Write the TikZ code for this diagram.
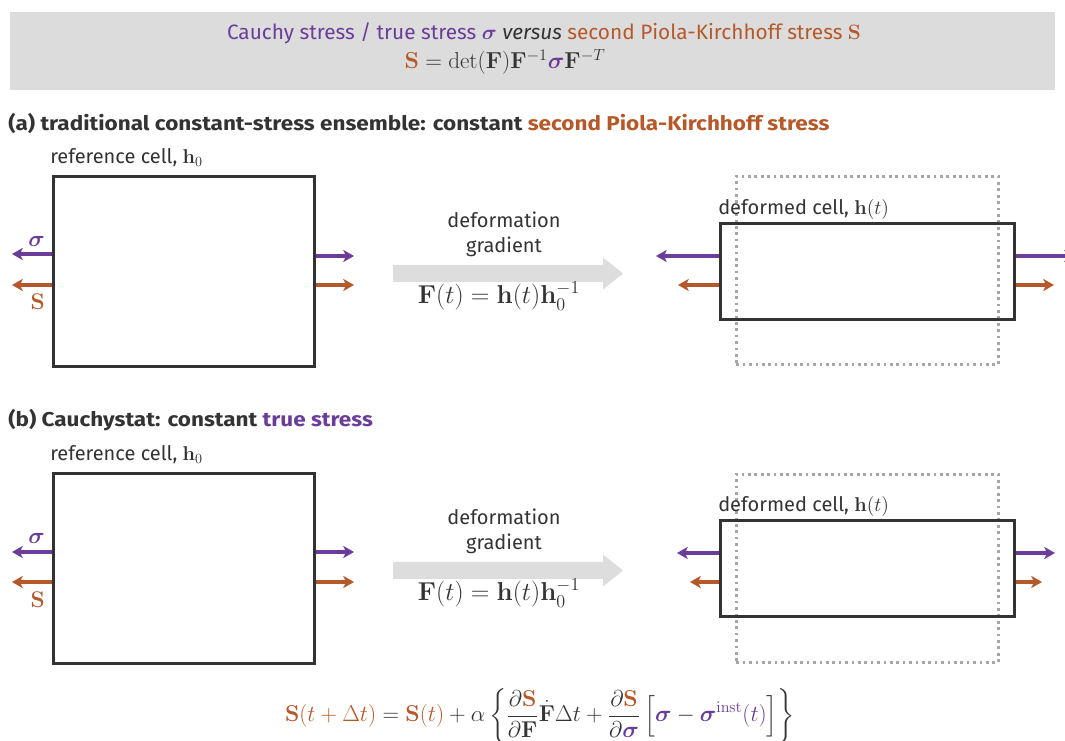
\RequirePackage{fix-cm}
\documentclass[tikz,border=0pt]{standalone}
\usepackage{amsmath,bm}
\usepackage[no-math]{fontspec}
\setmainfont{Fira Sans}
\newfontfamily\titlefont[FakeStretch=1.125]{Fira Sans}
\usetikzlibrary{arrows.meta}
\definecolor{purp}{HTML}{6A3D9A}
\definecolor{orng}{HTML}{B5592A}
\definecolor{ink}{HTML}{333333}
\definecolor{hdr}{HTML}{DCDCDC}
\definecolor{bigarr}{HTML}{DDDDDD}
\begin{document}
\begin{tikzpicture}[x=0.75pt,y=-0.75pt,
  font=\fontsize{15}{18}\selectfont, text=ink,
  cell/.style={draw=ink, line width=2.2pt, inner sep=0pt, anchor=north west},
  ghost/.style={draw=gray!70, line width=2pt, dash pattern=on 2pt off 2.8pt, inner sep=0pt, anchor=north west},
  parr/.style={draw=purp, line width=2.4pt, -{Stealth[length=8pt,width=9pt,inset=2pt]}},
  oarr/.style={draw=orng, line width=2.4pt, -{Stealth[length=8pt,width=9pt,inset=2pt]}},
  lbl/.style={anchor=base west, inner sep=0pt},
  ttl/.style={anchor=base west, inner sep=0pt, font=\titlefont\bfseries\fontsize{15}{18}\selectfont},
  gradtxt/.style={align=center, inner sep=0pt},
  bigmath/.style={inner sep=0pt, font=\fontsize{19.4}{23}\selectfont}]
\useasboundingbox (0,0) rectangle (1065,741);
% header
\node[fill=hdr, minimum width=783.75pt, minimum height=58.5pt, anchor=north west, inner sep=0pt] (hdr) at (10,12) {};
\node[inner sep=0pt, font=\fontsize{15.6}{18}\selectfont] (h1) at (544,33) {\textcolor{purp}{Cauchy stress / true stress $\bm{\sigma}$} \textit{versus} \textcolor{orng}{second Piola-Kirchhoff stress $\mathbf{S}$}};
\node[bigmath, font=\fontsize{17.3}{20}\selectfont] (h2) at (505,62) {$\textcolor{orng}{\mathbf{S}}=\det(\mathbf{F})\mathbf{F}^{-1}\textcolor{purp}{\bm{\sigma}}\mathbf{F}^{-T}$};

% ---------- (a)
\node[ttl] (ta) at (8,131) {(a) traditional constant-stress ensemble: constant \textcolor{orng}{second Piola-Kirchhoff stress}};
\node[cell, minimum width=195.75pt, minimum height=142.5pt] (refA) at (52,175) {};
\node[lbl] (rla) at (50,164) {reference cell, $\mathbf{h}_0$};
\coordinate (aLp) at (12,254); \coordinate (aLo) at (12,285);
\coordinate (aRp) at (354,256); \coordinate (aRo) at (354,285);
\draw[parr] (refA.west |- aLp) -- (aLp);
\draw[oarr] (refA.west |- aLo) -- (aLo);
\draw[parr] (refA.east |- aRp) -- (aRp);
\draw[oarr] (refA.east |- aRo) -- (aRo);
\node[anchor=east, inner sep=0pt, text=purp, font=\fontsize{17}{20}\selectfont] (sa) at (45,241) {$\bm{\sigma}$};
\node[anchor=east, inner sep=0pt, text=orng, font=\fontsize{17}{20}\selectfont] (Sa) at (45,302) {$\mathbf{S}$};

\fill[bigarr] (393,265) -- (603,265) -- (603,257.5) -- (623,273.5) -- (603,289.5) -- (603,282) -- (393,282) -- cycle;
\node[gradtxt] (da) at (504,220) {deformation};
\node[gradtxt] (ga) at (504,247) {gradient};
\node[bigmath] (fa) at (499,296) {$\mathbf{F}(t)=\mathbf{h}(t)\mathbf{h}_0^{-1}$};

\node[ghost, minimum width=196.5pt, minimum height=141pt] (ghA) at (735,175) {};
\node[cell, minimum width=220.5pt, minimum height=72pt] (defA) at (719,222) {};
\node[lbl] (dla) at (718,215) {deformed cell, $\mathbf{h}(t)$};
\coordinate (dLp) at (656,256); \coordinate (dLo) at (678,285);
\coordinate (dRp) at (1075,256); \coordinate (dRo) at (1054,285);
\draw[parr] (defA.west |- dLp) -- (dLp);
\draw[oarr] (defA.west |- dLo) -- (dLo);
\draw[parr] (defA.east |- dRp) -- (dRp);
\draw[oarr] (defA.east |- dRo) -- (dRo);

% ---------- (b)
\node[ttl] (tb) at (8,427) {(b) Cauchystat: constant \textcolor{purp}{true stress}};
\node[cell, minimum width=195.75pt, minimum height=142.5pt] (refB) at (52,472) {};
\node[lbl] (rlb) at (50,461) {reference cell, $\mathbf{h}_0$};
\coordinate (bLp) at (12,552); \coordinate (bLo) at (12,582);
\coordinate (bRp) at (354,552); \coordinate (bRo) at (354,582);
\draw[parr] (refB.west |- bLp) -- (bLp);
\draw[oarr] (refB.west |- bLo) -- (bLo);
\draw[parr] (refB.east |- bRp) -- (bRp);
\draw[oarr] (refB.east |- bRo) -- (bRo);
\node[anchor=east, inner sep=0pt, text=purp, font=\fontsize{17}{20}\selectfont] (sb) at (45,538) {$\bm{\sigma}$};
\node[anchor=east, inner sep=0pt, text=orng, font=\fontsize{17}{20}\selectfont] (Sb) at (45,600) {$\mathbf{S}$};

\fill[bigarr] (393,562) -- (603,562) -- (603,554.5) -- (623,570.5) -- (603,586.5) -- (603,579) -- (393,579) -- cycle;
\node[gradtxt] (db) at (504,517) {deformation};
\node[gradtxt] (gb) at (504,544) {gradient};
\node[bigmath] (fb) at (499,593) {$\mathbf{F}(t)=\mathbf{h}(t)\mathbf{h}_0^{-1}$};

\node[ghost, minimum width=196.5pt, minimum height=141pt] (ghB) at (735,473) {};
\node[cell, minimum width=220.5pt, minimum height=72pt] (defB) at (719,519) {};
\node[lbl] (dlb) at (718,512) {deformed cell, $\mathbf{h}(t)$};
\coordinate (eLp) at (677,553); \coordinate (eLo) at (690,582);
\coordinate (eRp) at (1055,553); \coordinate (eRo) at (1042,582);
\draw[parr] (defB.west |- eLp) -- (eLp);
\draw[oarr] (defB.west |- eLo) -- (eLo);
\draw[parr] (defB.east |- eRp) -- (eRp);
\draw[oarr] (defB.east |- eRo) -- (eRo);

% bottom equation
\node[bigmath, font=\fontsize{17.2}{20}\selectfont] (eq) at (540,716) {$\displaystyle \textcolor{orng}{\mathbf{S}(t+\Delta t)}=\textcolor{orng}{\mathbf{S}(t)}+\alpha\left\{\frac{\partial\textcolor{orng}{\mathbf{S}}}{\partial\mathbf{F}}\dot{\mathbf{F}}\Delta t+\frac{\partial\textcolor{orng}{\mathbf{S}}}{\partial\textcolor{purp}{\bm{\sigma}}}\,\Bigl[\textcolor{purp}{\bm{\sigma}}-\textcolor{purp}{\bm{\sigma}^{\mathrm{inst}}(t)}\Bigr]\right\}$};
\end{tikzpicture}
\end{document}
